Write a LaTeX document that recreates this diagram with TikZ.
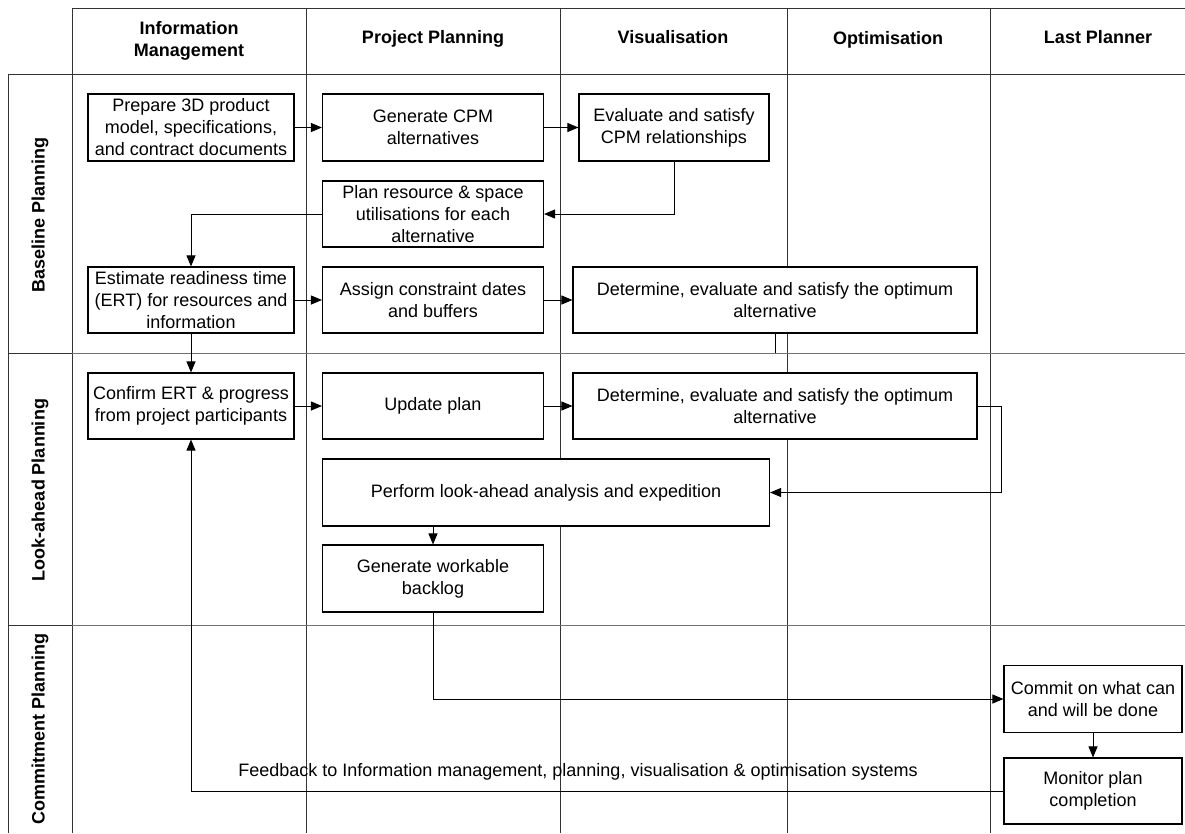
\documentclass[tikz,border=0pt]{standalone}
\usepackage{fontspec}
\setmainfont{Liberation Sans}
\usetikzlibrary{arrows.meta}

\tikzset{
  box/.style={draw, line width=1.1pt, fill=white, align=center, inner sep=2pt, font=\fontsize{18}{22}\selectfont},
  arr/.style={line width=0.9pt, -{Triangle[length=11pt,width=9pt]}},
  conn/.style={line width=0.9pt},
  lane/.style={line width=0.8pt, black!80},
  sep/.style={line width=0.8pt, black!55},
  head/.style={font=\fontsize{18}{22}\selectfont\bfseries, align=center},
}

\begin{document}
\begin{tikzpicture}[x=1pt, y=-1pt]
			\useasboundingbox (0,0) rectangle (1185,833);
			
			% Rahmen + Spalten
			\draw[lane] (72,8) -- (1185,8);
			\draw[lane] (8,74) -- (1185,74);
			\draw[lane] (8,74) -- (8,833);
			\foreach \x in {72,306,560,787,990} \draw[lane] (\x,8) -- (\x,833);
			
			% Zeilen
			\foreach \y in {353,625} {
				\draw[lane] (8,\y) -- (72,\y);
				\draw[sep] (72,\y) -- (1185,\y);
			}
			
			% Spaltenkoepfe
			\node[head] (hinfo) at (189,41) {Information\\Management};
			\node[head, anchor=base] (hplan) at (433,43) {Project Planning};
			\node[head, anchor=base] (hvis) at (673,43) {Visualisation};
			\node[head, anchor=base] (hopt) at (888,44) {Optimisation};
			\node[head, anchor=base] (hlast) at (1098,43) {Last Planner};
			
			% Zeilenkoepfe
			\node[head, rotate=90] (rbase) at (40,215) {Baseline Planning};
			\node[head, rotate=90] (rlook) at (40,490) {Look-ahead Planning};
			\node[head, rotate=90] (rcommit) at (40,729) {Commitment Planning};
			
			% Baseline
			\node[box, minimum width=206pt, minimum height=67pt] (prep) at (191,127.5) {Prepare 3D product\\model, specifications,\\and contract documents};
			\node[box, minimum width=221pt, minimum height=67pt] (gencpm) at (433,127.5) {Generate CPM\\alternatives};
			\node[box, minimum width=190pt, minimum height=67pt] (evalcpm) at (674,127.5) {Evaluate and satisfy\\CPM relationships};
			\node[box, minimum width=221pt, minimum height=66pt] (planres) at (433,214) {Plan resource \& space\\utilisations for each\\alternative};
			\node[box, minimum width=206pt, minimum height=66pt] (estim) at (191,300) {Estimate readiness time\\(ERT) for resources and\\information};
			\node[box, minimum width=221pt, minimum height=66pt] (assign) at (433,300) {Assign constraint dates\\and buffers};
			\node[box, minimum width=404pt, minimum height=66pt] (determa) at (775,300) {Determine, evaluate and satisfy the optimum\\alternative};
			
			% Look-ahead
			\node[box, minimum width=206pt, minimum height=66pt] (confirm) at (191,406) {Confirm ERT \& progress\\from project participants};
			\node[box, minimum width=221pt, minimum height=66pt] (update) at (433,406) {Update plan};
			\node[box, minimum width=404pt, minimum height=66pt] (determb) at (775,406) {Determine, evaluate and satisfy the optimum\\alternative};
			\node[box, minimum width=447pt, minimum height=67pt] (perform) at (546,492.5) {Perform look-ahead analysis and expedition};
			\node[box, minimum width=221pt, minimum height=67pt] (backlog) at (433,578.5) {Generate workable\\backlog};
			
			% Commitment
			\node[box, minimum width=178pt, minimum height=67pt] (commit) at (1093,699) {Commit on what can\\and will be done};
			\node[box, minimum width=178pt, minimum height=66pt] (monitor) at (1093,791) {Monitor plan\\completion};
			\node[font=\fontsize{18}{22}\selectfont] (fbtext) at (578,772) {Feedback to Information management, planning, visualisation \& optimisation systems};
			
			% Pfeile
			\draw[arr] (prep) -- (gencpm);
			\draw[arr] (gencpm) -- (evalcpm);
			\draw[arr] (evalcpm.south) |- (planres.east);
			\draw[arr] (planres.west) -| (estim.north);
			\draw[arr] (estim) -- (assign);
			\draw[arr] (assign) -- (determa);
			\coordinate (stub) at (775,353);
			\draw[conn] (determa.south) -- (stub);
			
			\draw[arr] (estim) -- (confirm);
			\draw[arr] (confirm) -- (update);
			\draw[arr] (update) -- (determb);
			\draw[arr] (determb.east) -- ++(24,0) |- (perform.east);
			\draw[arr] (backlog.north |- perform.south) -- (backlog.north);
			\draw[arr] (backlog.south) |- (commit.west);
			\draw[arr] (commit) -- (monitor);
			\draw[arr] (monitor.west) -| (confirm.south);
\end{tikzpicture}
\end{document}
